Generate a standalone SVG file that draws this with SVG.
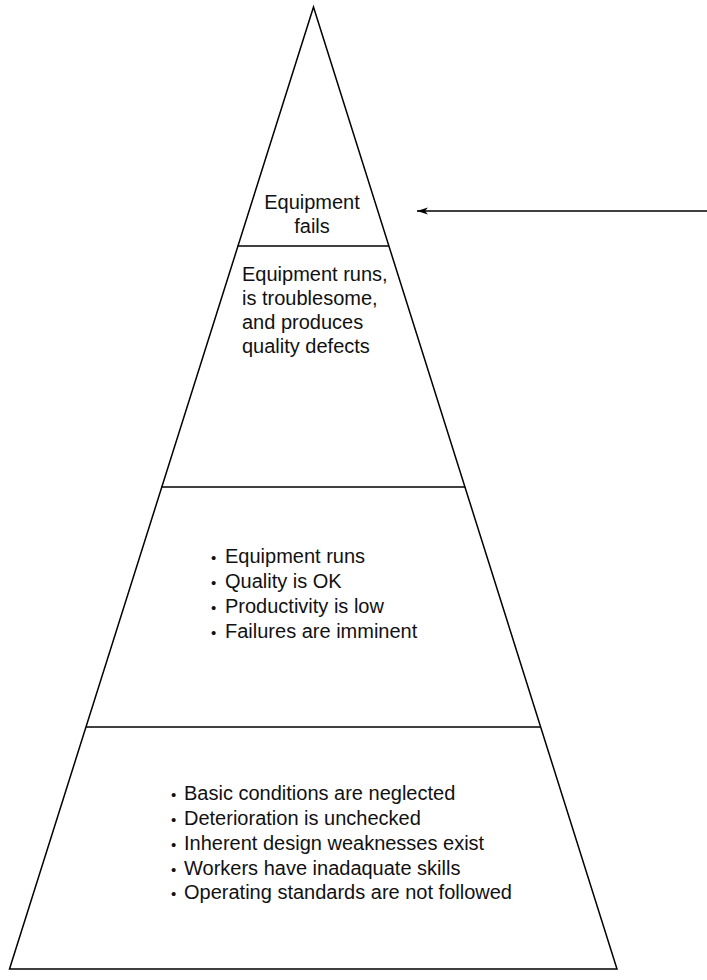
<svg xmlns="http://www.w3.org/2000/svg" width="707" height="980" viewBox="0 0 707 980">
<defs>
<style>
.edge{fill:none;stroke:#000;stroke-width:1.5}
.t{font-family:"Liberation Sans",Arial,sans-serif;font-size:20px;fill:#111}
.c{text-anchor:middle}
.b{font-size:15px}
</style>
<marker id="ah" viewBox="0 0 11 8" refX="11" refY="4" markerWidth="11" markerHeight="8" markerUnits="userSpaceOnUse" orient="auto">
<path d="M0,0.5 L11,4 L0,7.5 L3,4 Z" fill="#000"/>
</marker>
</defs>
<rect width="707" height="980" fill="#fff"/>
<g id="pyramid">
<polygon class="edge" points="313.5,7 9.5,969 617,969"/>
</g>
<g id="level1">
<line class="edge" x1="237.6" y1="246" x2="389" y2="246"/>
<text class="t c" x="312" y="209">Equipment</text>
<text class="t c" x="312" y="233">fails</text>
</g>
<g id="level2">
<line class="edge" x1="161.7" y1="487" x2="465" y2="487"/>
<text class="t" x="242" y="281">Equipment runs,</text>
<text class="t" x="242" y="305">is troublesome,</text>
<text class="t" x="242" y="329">and produces</text>
<text class="t" x="242" y="353">quality defects</text>
</g>
<g id="level3">
<line class="edge" x1="86" y1="727" x2="540" y2="727"/>
<text class="t" y="563"><tspan class="b" x="211">•</tspan><tspan x="225">Equipment runs</tspan></text>
<text class="t" y="588"><tspan class="b" x="211">•</tspan><tspan x="225">Quality is OK</tspan></text>
<text class="t" y="613"><tspan class="b" x="211">•</tspan><tspan x="225">Productivity is low</tspan></text>
<text class="t" y="638"><tspan class="b" x="211">•</tspan><tspan x="225">Failures are imminent</tspan></text>
</g>
<g id="level4">
<text class="t" y="800"><tspan class="b" x="171">•</tspan><tspan x="184">Basic conditions are neglected</tspan></text>
<text class="t" y="825"><tspan class="b" x="171">•</tspan><tspan x="184">Deterioration is unchecked</tspan></text>
<text class="t" y="850"><tspan class="b" x="171">•</tspan><tspan x="184">Inherent design weaknesses exist</tspan></text>
<text class="t" y="875"><tspan class="b" x="171">•</tspan><tspan x="184">Workers have inadaquate skills</tspan></text>
<text class="t" y="899"><tspan class="b" x="171">•</tspan><tspan x="184">Operating standards are not followed</tspan></text>
</g>
<g id="connectors">
<line class="edge" x1="707" y1="211" x2="417" y2="211" marker-end="url(#ah)"/>
</g>
</svg>
